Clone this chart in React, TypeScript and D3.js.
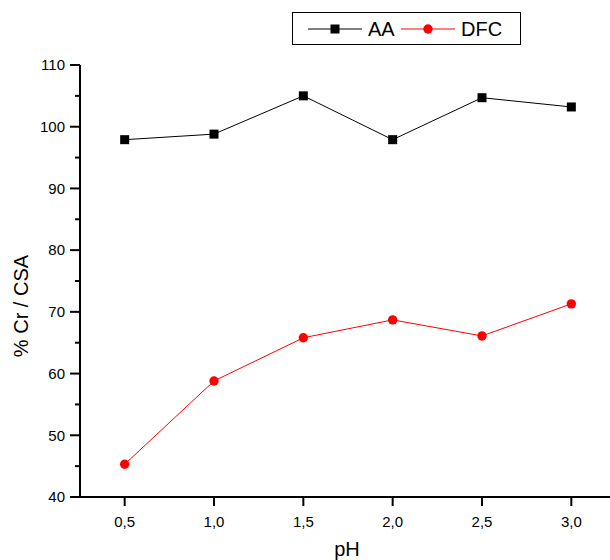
import React from "react";
import * as d3 from "d3";

const phValues = [0.5, 1.0, 1.5, 2.0, 2.5, 3.0];
const aaValues = [97.9, 98.8, 105.0, 97.9, 104.7, 103.2];
const dfcValues = [45.3, 58.8, 65.8, 68.7, 66.1, 71.3];
const xTickLabels = ["0,5", "1,0", "1,5", "2,0", "2,5", "3,0"];
const yTicks = [40, 50, 60, 70, 80, 90, 100, 110];
const yMinorTicks = [45, 55, 65, 75, 85, 95, 105];

export default function App() {
  const W = 610, H = 560;
  const x = d3.scaleLinear().domain([0.25, 3.25]).range([80, 616]);
  const y = d3.scaleLinear().domain([40, 110]).range([497, 65]);
  const line = d3.line<number>().x((_, i) => x(phValues[i])).y((d) => d);
  const aaPath = line(aaValues.map((v) => y(v))) || "";
  const dfcPath = line(dfcValues.map((v) => y(v))) || "";
  const font = "'Liberation Sans', Arial, sans-serif";
  return (
    <svg width={W} height={H} style={{ position: "absolute", left: 0, top: 0, background: "#fff" }} fontFamily={font}>
      {/* axes */}
      <line x1={80} y1={65} x2={80} y2={498} stroke="#000" strokeWidth={2} />
      <line x1={79} y1={497} x2={W} y2={497} stroke="#000" strokeWidth={2} />
      {yTicks.map((t) => (
        <g key={t}>
          <line x1={70} x2={80} y1={y(t)} y2={y(t)} stroke="#000" strokeWidth={2} />
          <text x={65} y={y(t)} dy="0.35em" textAnchor="end" fontSize={15} fill="#000">{t}</text>
        </g>
      ))}
      {yMinorTicks.map((t) => (
        <line key={t} x1={75} x2={80} y1={y(t)} y2={y(t)} stroke="#000" strokeWidth={2} />
      ))}
      {phValues.map((p, i) => (
        <g key={p}>
          <line x1={x(p)} x2={x(p)} y1={497} y2={506} stroke="#000" strokeWidth={2} />
          <text x={x(p)} y={527} textAnchor="middle" fontSize={15} fill="#000">{xTickLabels[i]}</text>
        </g>
      ))}
      <text x={347} y={556} textAnchor="middle" fontSize={20} fill="#000">pH</text>
      <text transform="translate(28,306) rotate(-90)" textAnchor="middle" fontSize={20} fill="#000">% Cr / CSA</text>
      {/* series */}
      <path d={aaPath} fill="none" stroke="#000" strokeWidth={1} />
      {aaValues.map((v, i) => (
        <rect key={i} x={x(phValues[i]) - 4.5} y={y(v) - 4.5} width={9} height={9} fill="#000" />
      ))}
      <path d={dfcPath} fill="none" stroke="#ff0000" strokeWidth={1} />
      {dfcValues.map((v, i) => (
        <circle key={i} cx={x(phValues[i])} cy={y(v)} r={4.7} fill="#ff0000" />
      ))}
      {/* legend */}
      <rect x={292.5} y={12.5} width={228} height={32} fill="#fff" stroke="#000" strokeWidth={1} />
      <line x1={308} x2={362} y1={29} y2={29} stroke="#000" strokeWidth={1} />
      <rect x={330.5} y={24.5} width={9} height={9} fill="#000" />
      <text x={368} y={36} fontSize={20} fill="#000">AA</text>
      <line x1={401} x2={455} y1={29} y2={29} stroke="#ff0000" strokeWidth={1} />
      <circle cx={428} cy={29} r={4.7} fill="#ff0000" />
      <text x={461} y={36} fontSize={20} fill="#000">DFC</text>
    </svg>
  );
}
